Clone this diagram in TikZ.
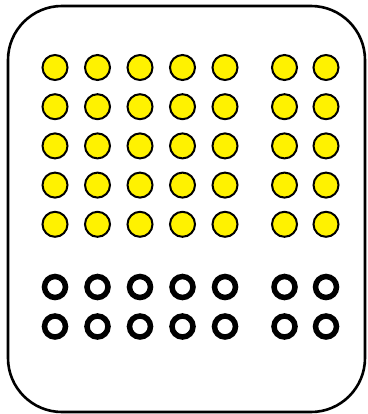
\documentclass[tikz,border=0pt]{standalone}
\begin{document}
\begin{tikzpicture}[x=1pt,y=-1pt,
  ydot/.style={circle,draw=black,fill=yellow,line width=2pt,minimum size=25pt,inner sep=0pt},
  bdot/.style={circle,draw=black,fill=white,line width=5.5pt,minimum size=21pt,inner sep=0pt}]
\useasboundingbox (0,0) rectangle (367,414);
\draw[line width=2.6pt,rounded corners=54pt] (8,6) rectangle (365,412);
\foreach \x [count=\i] in {55,97.5,140,182.5,225,284.5,326}{
  \foreach \y [count=\j] in {67.5,106.7,145.9,185.1,224.3}{
    \node[ydot] (y\i-\j) at (\x,\y) {};
  }
  \foreach \y [count=\j] in {287,326.5}{
    \node[bdot] (b\i-\j) at (\x,\y) {};
  }
}
\end{tikzpicture}
\end{document}
